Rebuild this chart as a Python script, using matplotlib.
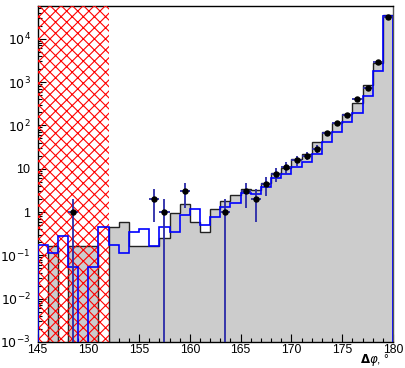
import numpy as np
import matplotlib
matplotlib.use("Agg")
import matplotlib.pyplot as plt
from matplotlib.ticker import FixedLocator, LogLocator, NullFormatter, FuncFormatter

plt.rcParams['font.family'] = ['Liberation Sans', 'DejaVu Sans']
plt.rcParams['hatch.linewidth'] = 0.8

# 1-degree bins from 145 to 180
edges = np.arange(145, 181, 1)

# simulation (grey filled histogram)
mc_grey = [0, 0.165, 0, 0.165, 0.165, 0.165, 0, 0.44, 0.6, 0.165,
           0.165, 0.165, 0.25, 0.95, 1.5, 0.6, 0.35, 1.2, 1.75, 2.5,
           3.4, 3.2, 4.8, 7.9, 10.2, 17, 22, 42, 69, 113,
           180, 326, 870, 2800, 34400]

# second simulation (blue line)
mc_blue = [0.17, 0.115, 0.28, 0.055, 0, 0.055, 0.44, 0.17, 0.115, 0.35,
           0.40, 0.165, 0.44, 0.34, 0.84, 1.2, 0.5, 0.78, 1.29, 1.65,
           2.7, 2.6, 3.86, 6.1, 7.5, 11, 14, 22, 42, 72,
           120, 190, 480, 1845, 34000]

# measured events
data_x = [148.5, 156.5, 157.5, 159.5, 163.5, 165.5, 166.5, 167.5, 168.5, 169.5,
          170.5, 171.5, 172.5, 173.5, 174.5, 175.5, 176.5, 177.5, 178.5, 179.5]
data_y = [1, 2, 1, 3, 1, 3, 2, 4.4, 7.6, 11,
          15.5, 20, 29, 66, 113, 172, 403, 747, 2930, 32600]

excl_lo, excl_hi = 145, 152

fig = plt.figure(figsize=(4.05, 3.68), dpi=100)
ax = fig.add_axes([0.0926, 0.0707, 0.8778, 0.913])
ax.set_yscale('log')

floor = 1e-6
grey = np.where(np.array(mc_grey) > 0, mc_grey, floor)
blue = np.where(np.array(mc_blue) > 0, mc_blue, floor)

ax.stairs(grey, edges, baseline=floor, fill=True, color='#cccccc', zorder=1)
ax.stairs(grey, edges, baseline=floor, color='#222222', lw=1.0, zorder=2)

# excluded region
ax.axvspan(excl_lo, excl_hi, facecolor='none', edgecolor='red', hatch='xxx',
           linewidth=0, zorder=3)

ax.stairs(blue, edges, baseline=floor, color='#0000ff', lw=1.2, zorder=4)

dy = np.sqrt(data_y)
ax.errorbar(data_x, data_y, xerr=0.5, yerr=dy, fmt='o', ms=3.6,
            mfc='black', mec='black', ecolor='#2a2aa8', elinewidth=1.3,
            capsize=0, zorder=5)

ax.set_xlim(145, 180)
ax.set_ylim(1e-3, 5.7e4)

ax.xaxis.set_major_locator(FixedLocator(np.arange(145, 181, 5)))
ax.xaxis.set_minor_locator(FixedLocator(np.arange(145, 181, 1)))
ax.yaxis.set_major_locator(LogLocator(base=10, numticks=20))
ax.yaxis.set_minor_locator(LogLocator(base=10, subs=np.arange(2, 10), numticks=20))
ax.yaxis.set_minor_formatter(NullFormatter())


def ylab(v, pos):
    e = int(round(np.log10(v)))
    if e == 0:
        return '1'
    if e == 1:
        return '10'
    return r'$10^{%d}$' % e


ax.yaxis.set_major_formatter(FuncFormatter(ylab))
ax.tick_params(which='both', direction='in', top=False, right=False,
               labelsize=9)
ax.tick_params(axis='x', pad=1.5, labelsize=8.8)
ax.tick_params(axis='y', pad=5)
ax.tick_params(which='major', length=6, width=0.8)
ax.tick_params(which='minor', length=3, width=0.8)

for s in ax.spines.values():
    s.set_linewidth(1.0)
ax.spines['right'].set_color('#555555')

fig.text(0.962, 0.0, r'$\mathbf{\Delta}\varphi$, °', ha='right', va='bottom',
         fontsize=8.5)

fig.savefig('out.png', dpi=100)
